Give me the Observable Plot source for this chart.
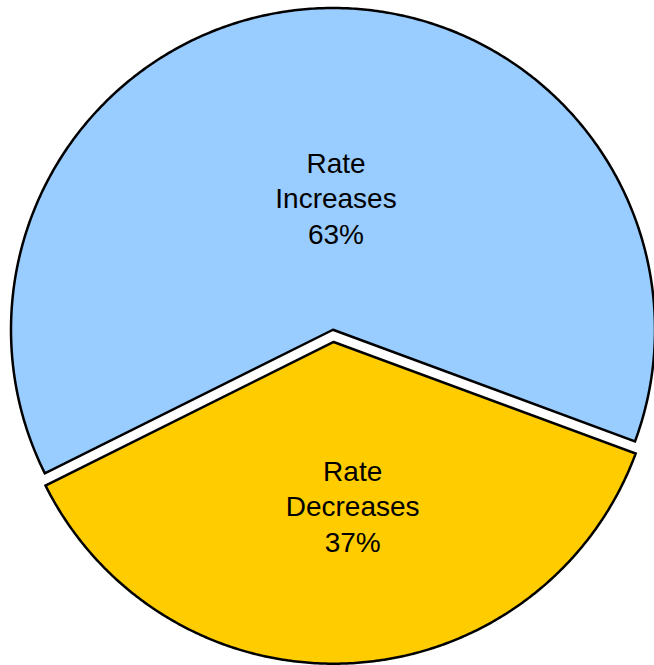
<!DOCTYPE html>
<html>
<head>
<meta charset="utf-8">
<script src="https://cdn.jsdelivr.net/npm/d3@7"></script>
<script src="https://cdn.jsdelivr.net/npm/@observablehq/plot@0.6"></script>
<style>
  html, body { margin: 0; padding: 0; background: #fff; }
  #chart svg { display: block; }
</style>
</head>
<body>
<div id="chart"></div>
<script>
// ---- data ----
const categories = ["Rate Increases", "Rate Decreases"];
const values = [63, 37];
const sliceColors = ["#99ccff", "#ffcc00"];
const explodeFlags = [0, 1];

// ---- layout/style parameters ----
const W = 654, H = 665;
const startDeg = 243.5;     // pie start angle, clockwise from 12 o'clock
const explode = 0.038;      // offset of exploded slice (in radius units)
const labelFrac = 0.46;

const pie = d3.pie().sort(null).startAngle(startDeg * Math.PI / 180)
  .endAngle(startDeg * Math.PI / 180 + 2 * Math.PI);
const arcs = pie(values);
const total = d3.sum(values);

const points = [];
const labels = [];
arcs.forEach((a, i) => {
  const mid = (a.startAngle + a.endAngle) / 2;
  const ox = explodeFlags[i] * explode * Math.sin(mid);
  const oy = explodeFlags[i] * explode * Math.cos(mid);
  const n = Math.max(8, Math.ceil((a.endAngle - a.startAngle) * 120));
  points.push({key: categories[i], color: sliceColors[i], x: ox, y: oy});
  for (let k = 0; k <= n; k++) {
    const t = a.startAngle + (a.endAngle - a.startAngle) * k / n;
    points.push({key: categories[i], color: sliceColors[i], x: ox + Math.sin(t), y: oy + Math.cos(t)});
  }
  points.push({key: categories[i], color: sliceColors[i], x: ox, y: oy});
  const words = categories[i].split(" ");
  labels.push({
    x: ox + labelFrac * Math.sin(mid),
    y: oy + labelFrac * Math.cos(mid),
    text: words.join("\n") + "\n" + Math.round(values[i] / total * 100) + "%"
  });
});

const chart = Plot.plot({
  width: W,
  height: H,
  margin: 0,
  x: {domain: [-1, 1], range: [10.5, 654.5], axis: null},
  y: {domain: [-1, 1], range: [651, 7.5], axis: null},
  color: {type: "identity"},
  marks: [
    Plot.line(points, {
      x: "x", y: "y", z: "key", fill: "color",
      stroke: "#000", strokeWidth: 2.5,
      strokeLinejoin: "miter", strokeMiterlimit: 10, curve: "linear"
    }),
    Plot.text(labels, {
      x: "x", y: "y", text: "text", dx: 11, dy: 15,
      fontSize: 28, lineHeight: 1.27, fill: "#000",
      fontFamily: "Liberation Sans, Arial, sans-serif"
    })
  ]
});
document.getElementById("chart").appendChild(chart);
</script>
</body>
</html>
